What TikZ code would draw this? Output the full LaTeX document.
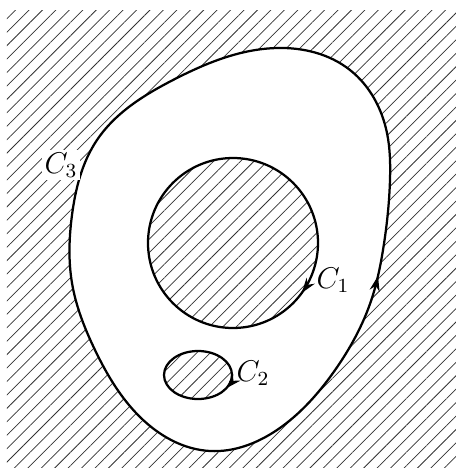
\documentclass[tikz,border=0pt]{standalone}
\usetikzlibrary{patterns.meta,decorations.markings,arrows.meta,hobby}
\begin{document}
\begin{tikzpicture}[x=0.4pt,y=-0.4pt,
    hatch/.style={pattern={Lines[angle=45,distance=3.8pt,line width=0.3pt]},pattern color=black!80},
    bdry/.style={line width=0.9pt},
    arrowAt/.style={postaction={decorate},decoration={markings,
        mark=at position #1 with {\arrow{Stealth[length=6pt,width=4pt]}}}},
    lbl/.style={inner sep=1pt,font=\fontsize{11.5}{13}\selectfont},
]
\useasboundingbox (0,0) rectangle (456,469);
% hatched plane
\fill[hatch] (7,10) rectangle (456,467);
% outer contour C3
\draw[bdry, fill=white, arrowAt=0.02, use Hobby shortcut, closed=true]
    (372,298) .. (383,250) .. (390,180) .. (387,133) .. (350,70) .. (277,48)
    .. (173,80) .. (97,140) .. (72,215) .. (72,283) .. (95,350) .. (140,417)
    .. (210,451) .. (277,430) .. (333,373);
% hole C1
\draw[bdry, hatch, arrowAt=0.1] (233,243) circle (85);
% hole C2
\draw[bdry, hatch, arrowAt=0.08] (198,375) ellipse [x radius=34, y radius=24];
% labels
\node[lbl] (c1) at (333,280) {$C_1$};
\node[lbl] (c2) at (253,373) {$C_2$};
\node[lbl, fill=white] (c3) at (61,165) {$C_3$};
\end{tikzpicture}
\end{document}
